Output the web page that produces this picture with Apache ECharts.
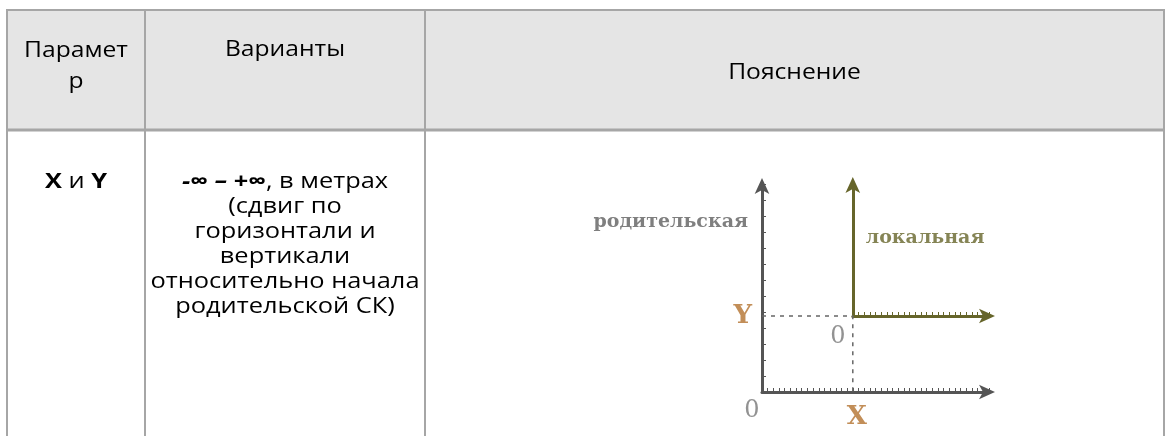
<!DOCTYPE html>
<html>
<head>
<meta charset="utf-8">
<script src="https://cdn.jsdelivr.net/npm/echarts@6.0.0/dist/echarts.min.js"></script>
<style>html,body{margin:0;padding:0;background:#fff}#c{width:1166px;height:436px}</style>
</head>
<body>
<div id="c"></div>
<script>
// ---- table content ----
const headers = ['Парамет\nр', 'Варианты', 'Пояснение'];
const rowParam = '{b|X} и {b|Y}';
const rowRange = '-∞ – +∞';
const rowVariantLines = [', в метрах', '(сдвиг по', 'горизонтали и', 'вертикали', 'относительно начала', 'родительской СК)'];
// ---- diagram values (parent coordinate system units) ----
const parentXMax = 40;
const parentYMax = 13;
const localOrigin = [16, 4.75];      // X, Y of local origin in parent units
const localXMax = 24;
const localYMax = 8.4;
const parentLabel = 'родительская';
const localLabel = 'локальная';
const parentLabelY = 10.6;
const localLabelY = 4.9;

const colBounds = [7, 145, 425, 1164];
const tableTop = 10, headerBottom = 130;
const border = '#a6a6a6';
const FONT = 'Open Sans';
const HS = 1.12, BS = 1.21;

const graphic = [];
graphic.push({type:'rect', shape:{x:colBounds[0], y:tableTop, width:colBounds[3]-colBounds[0], height:headerBottom-tableTop}, style:{fill:'#e5e5e5'}, z:0});
graphic.push({type:'line', shape:{x1:colBounds[0]-1, y1:tableTop, x2:colBounds[3]+1, y2:tableTop}, style:{stroke:border, lineWidth:2}, z:2});
graphic.push({type:'line', shape:{x1:colBounds[0]-1, y1:headerBottom, x2:colBounds[3]+1, y2:headerBottom}, style:{stroke:border, lineWidth:3}, z:2});
colBounds.forEach(x => graphic.push({type:'line', shape:{x1:x, y1:tableTop, x2:x, y2:436}, style:{stroke:border, lineWidth:2}, z:2}));

const cx = i => (colBounds[i] + colBounds[i+1]) / 2;
const hStyle = (text) => ({text:text, fontSize:22, fontFamily:FONT, fill:'#000', align:'center', verticalAlign:'middle', lineHeight:31});
graphic.push({type:'text', x:cx(0), y:66, scaleX:HS, z:3, style:hStyle(headers[0])});
graphic.push({type:'text', x:cx(1), y:50, scaleX:HS, z:3, style:hStyle(headers[1])});
graphic.push({type:'text', x:cx(2), y:73, scaleX:HS, z:3, style:hStyle(headers[2])});
graphic.push({type:'text', x:cx(0), y:170, scaleX:BS, z:3, style:{text:rowParam, fontSize:21, fontFamily:FONT, fill:'#000', align:'center', verticalAlign:'top', lineHeight:25,
  rich:{b:{fontWeight:'bold', fontSize:21, fontFamily:FONT, lineHeight:25}}}});
const variantText = '{bi|' + rowRange + '}' + rowVariantLines.join('\n');
graphic.push({type:'text', x:cx(1), y:170, scaleX:BS, z:3, style:{text:variantText, fontSize:21, fontFamily:FONT, fill:'#000', align:'center', verticalAlign:'top', lineHeight:25,
  rich:{bi:{fontWeight:'bold', fontStyle:'italic', fontSize:21, fontFamily:FONT, lineHeight:25}}}});

const parentColor = '#555555';
const localColor = '#66652a';
const accent = '#b3722e';
const decoFont = 'DejaVu Serif';
const lab = (text, color, size, weight, extra) => Object.assign({show:true, formatter:text, color:color, fontSize:size, fontWeight:weight, fontFamily:decoFont}, extra);

const option = {
  animation:false,
  backgroundColor:'#fff',
  graphic: graphic,
  grid:[{left:762, top:184, width:227, height:208}],
  xAxis:[{gridIndex:0, type:'value', min:0, max:parentXMax, interval:1,
    axisLine:{show:true, lineStyle:{color:parentColor, width:3}, symbol:['none','arrow'], symbolSize:[11,16], symbolOffset:[0,6]},
    axisTick:{show:true, inside:true, length:4, lineStyle:{color:parentColor, width:1}},
    axisLabel:{show:false}, splitLine:{show:false}}],
  yAxis:[{gridIndex:0, type:'value', min:0, max:parentYMax, interval:1,
    axisLine:{show:true, lineStyle:{color:parentColor, width:3}, symbol:['none','arrow'], symbolSize:[11,16], symbolOffset:[0,6]},
    axisTick:{show:true, inside:true, length:4, lineStyle:{color:parentColor, width:1}},
    axisLabel:{show:false}, splitLine:{show:false}}],
  series:[
    {type:'line', xAxisIndex:0, yAxisIndex:0, symbol:'none', silent:true,
      data:[[0, localOrigin[1]], [localOrigin[0], localOrigin[1]], [localOrigin[0], 0]],
      lineStyle:{color:'#666', width:1.5, type:[4,5]}},
    {type:'scatter', xAxisIndex:0, yAxisIndex:0, symbolSize:0, clip:false, silent:true,
      data:[
        {value:[0, parentLabelY], label:lab(parentLabel, '#5f5f5f', 19, 'bold', {position:'left', distance:14})},
        {value:[0, localOrigin[1]], label:lab('Y', accent, 26, 'bold', {position:'left', distance:10})},
        {value:[0, 0], label:lab('0', '#777', 24, 'normal', {position:'inside', offset:[-10,19]})},
        {value:[localOrigin[0], localOrigin[1]], label:lab('0', '#777', 24, 'normal', {position:'inside', offset:[-15,21]})},
        {value:[localOrigin[0], 0], label:lab('X', accent, 26, 'bold', {position:'inside', offset:[4,25]})}
      ]}
  ]
};

const chart = echarts.init(document.getElementById('c'), null, {renderer:'canvas'});
chart.setOption(option);

// place the local coordinate system using the parent scale
const o = chart.convertToPixel({gridIndex:0}, localOrigin);
const rightEnd = chart.convertToPixel({gridIndex:0}, [parentXMax, 0])[0];
const localTop = 183;
chart.setOption({
  grid:[{left:762, top:184, width:227, height:208}, {left:o[0], top:localTop, width:rightEnd - o[0], height:o[1]-localTop}],
  xAxis:[{gridIndex:0}, {gridIndex:1, type:'value', min:0, max:localXMax, interval:1,
    axisLine:{show:true, onZero:false, lineStyle:{color:localColor, width:3}, symbol:['none','arrow'], symbolSize:[11,16], symbolOffset:[0,6]},
    axisTick:{show:true, inside:true, length:4, lineStyle:{color:localColor, width:1}},
    axisLabel:{show:false}, splitLine:{show:false}}],
  yAxis:[{gridIndex:0}, {gridIndex:1, type:'value', min:0, max:localYMax,
    axisLine:{show:true, onZero:false, lineStyle:{color:localColor, width:3}, symbol:['none','arrow'], symbolSize:[11,16], symbolOffset:[0,6]},
    axisTick:{show:false}, axisLabel:{show:false}, splitLine:{show:false}}],
  series:[{}, {}, {type:'scatter', xAxisIndex:1, yAxisIndex:1, symbolSize:0, clip:false, silent:true,
    data:[{value:[0, localLabelY], label:lab(localLabel, localColor, 19, 'bold', {position:'right', distance:13})}]}]
});
</script>
</body>
</html>
